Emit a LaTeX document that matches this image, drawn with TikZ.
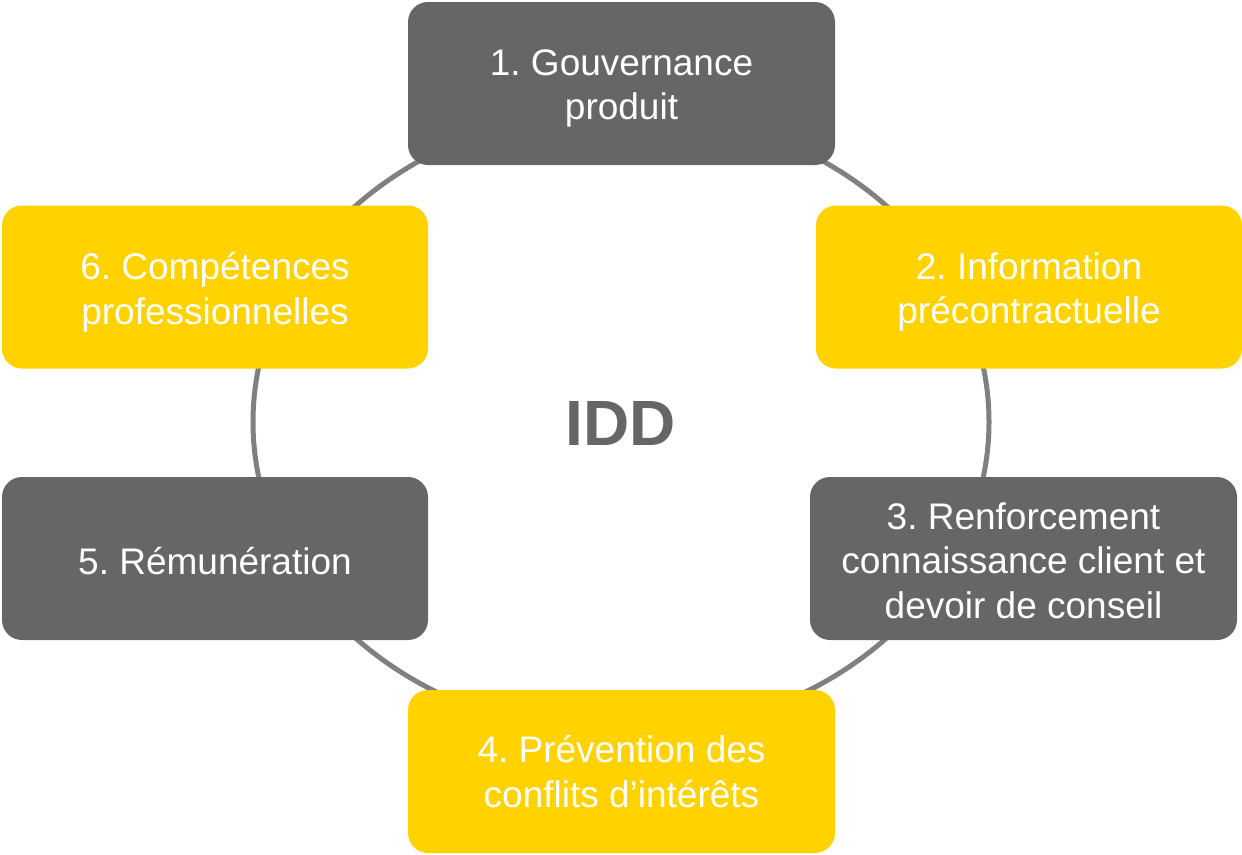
\documentclass[tikz,border=0pt]{standalone}
\usepackage{fontspec}
\setmainfont{Liberation Sans}
\frenchspacing
\definecolor{boxgray}{HTML}{666666}
\definecolor{boxyellow}{HTML}{FFD200}
\definecolor{ringgray}{HTML}{808080}
\begin{document}
\begin{tikzpicture}[x=1pt,y=-1pt,
  card/.style={rounded corners=20pt, minimum width=427pt, minimum height=163pt,
    inner sep=0pt},
  graycard/.style={card, fill=boxgray},
  yellowcard/.style={card, fill=boxyellow},
  cardtext/.style={text=white, align=center, inner sep=0pt,
    font=\fontsize{37}{44.5}\selectfont},
]
\useasboundingbox (0,0) rectangle (1242,854);
\draw[ringgray, line width=5pt] (621,422) ellipse [x radius=368pt, y radius=312pt];
\node[graycard] (b1) at (621.5,83.5) {};
\node[yellowcard, minimum width=426pt] (b2) at (1029,287) {};
\node[graycard] (b3) at (1023.5,558.5) {};
\node[yellowcard] (b4) at (621.5,771.5) {};
\node[graycard, minimum width=426pt] (b5) at (215,558.5) {};
\node[yellowcard, minimum width=426pt] (b6) at (215,287) {};
\node[cardtext] (t1) at ([yshift=-5pt]b1.center) {1. Gouvernance\\produit};
\node[cardtext] (t2) at ([yshift=-5pt]b2.center) {2. Information\\précontractuelle};
\node[cardtext] (t3) at ([yshift=-2pt]b3.center) {3. Renforcement\\connaissance client et\\devoir de conseil};
\node[cardtext] (t4) at ([yshift=0pt]b4.center) {4. Prévention des\\conflits d’intérêts};
\node[cardtext] (t5) at ([yshift=-3pt]b5.center) {5. Rémunération};
\node[cardtext] (t6) at ([yshift=-5pt]b6.center) {6. Compétences\\professionnelles};
\node[text=boxgray, font=\fontsize{64}{70}\selectfont\bfseries] (idd) at (621,423) {IDD};
\end{tikzpicture}
\end{document}
